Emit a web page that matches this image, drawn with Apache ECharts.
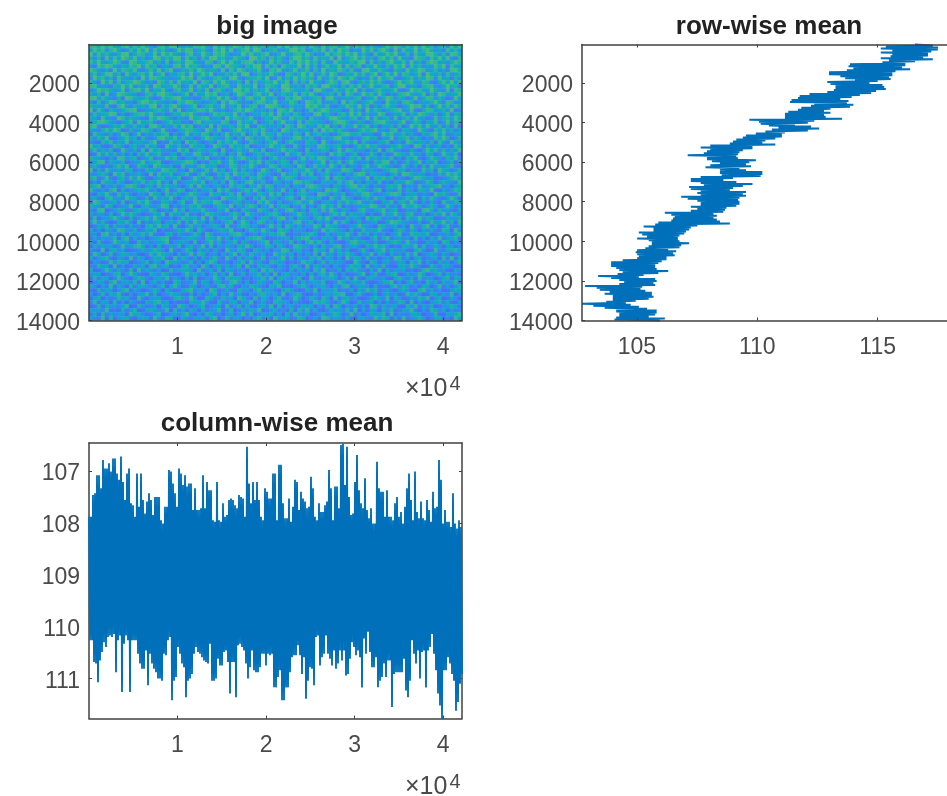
<!DOCTYPE html>
<html><head><meta charset="utf-8">
<style>html,body{margin:0;padding:0;background:#fff;overflow:hidden}#c{width:947px;height:796px;filter:blur(0.6px)}</style>
<script src="https://cdn.jsdelivr.net/npm/echarts@6/dist/echarts.min.js"></script>
</head><body><div id="c"></div>
<script>
// Image brightness, rows top to bottom, one digit per cell (0 = blue, 9 = green)
const imageRows = [
"674958326817495206738941527683094715862937460518392746185093672481957263048596173829460571938",
"385716940263859174620395871462075938146829703561248957036481729560318472695081743926851407362",
"927463158904762381957420681395276840139572468015923674850129367485916207348592160743895261874",
"516082739648150397264981735062894613752098461736205984617352809146937250684719320865174938206",
"749325861097346825170563984217605938426781503946217385946072185336489071526943718250697341586",
"208697415376928560341782956403187296530648917260753491826057349182670539416285907361428590743",
"863140927658104739268015473962541807396245810769314825706193548627108943752064183597236140895",
"471589360842673915804367192585903264718902635841076259381472960153847269058391762480953617246",
"195726084315092876431259680741367518920456739018263947560813729648503172946810357264971835062",
"630948172569741308627184539076284951360817246593580716294305861792046385720159468327610584937",
"782310659481526097345960281743905672184539027641983250746189530627481593267048915306782149560",
"149675238067839154820673491528067413985726348051796423608951274385906126743581029674395218076",
"526081397542016738964125807349681250497316825903642817593024617086139572840316795248061973458",
"893742160985347201756894320167359482061783594260175893246708931452670348159726403915872630194",
"307159846230698574213076985412560839741206873591348602975813460927514683209451786024369518723",
"654281079316452890637941258036724915380467129875026341968527103486392705168430259781604937285",
"918406325789013467528190346875931402685973241608759130482697354018260937514679238105873462901",
"273569814026785931402658793120486753916024375819462750318946205739481623970254816397526048165",
"540832197364210859763042195678135094762581036497218564072315896426705918346180572943018267395",
"168974203581946720358461207936542870193648025716934081765420379851263047895326914760548139276",
"792013658427350896142739680251907346285910763425086197342869150734926815043617029583942716080",
"431685970162487503921046875319628014795367482150973624508196847320158679241780653195207483615",
"085326149703915264780513926487041592638047196528341760925734016896572340196834725106479381254",
"627491035846072138965827340169753284061972538406125893471062589340217856043915682740318596027",
"310758264915643790218460957302618475930286415793068421756093124685907321568024197365270841963",
"946102873057328461095372186450297318564801326954711830642985367120486957312658430981724603185",
"582637019426180957342196804753640921573496280136957420813576049287354162907843116204958372649",
"019483726150749368215607439821583706294015738642093581764230958614702385061297538441760295380",
"764205198367025813496820351769124058379642710583621049375986124037581946263814075920386417592",
"258916437024593678102457986031768249510386927415760836214590738169423507489160372591648023706",
"473021685912864097536018342795460138726594103872654197038462951705316824975302841607194536821",
"906184352760317542986723095148293605817240396158023745961708423986017352146895603218470965137",
"325740968143620918457136820594017482956731864202935618480257136042798165320471986354021739684",
"681392057284951036724580139627815394026175840391687402356149087513642907685713204986350124795",
"140865273016483759260913567480362709514892371065142986730164528379150642813064597123860475329",
"579032614897205618374620481953146028375063928714260531897423065168937405216759034182467923056",
"832417906135768240591387026154709582136849405723916048265319784025486317905428163076391052487",
"206593184720341965083741596320856147290631752948035167420986153702648951236897045514209673128",
"461078352965127083649205738146320975486017392651478209365710842963015728460132586907384215960",
"097325618034859412763058129476598203761420859306124783592046317485793261054816729305162084376",
"754186023491067325980416375821047639152786043915760328140695728031246598317240965861374029513",
"318902476125743860251937064583216490307521864072389415076283951640178325692570143408961735206",
"625417039586201374908562813049753126840963215784013596237401685927536040183694278125037491862",
"180346952071468395214038657291805643917250376148926075316859402173640958724316085493750126347",
"493720165830915267046381729450621378049613872506134892570426193850271346015987432160284593708",
"026581734162307849571920483613574092268735104937085261439708652014596320873461509327916048215",
"715064298437126580312475960841036759120486395208761543016295874307128465932058617405362187093",
"340892516073584921067163248509612437895024163758910324685017236594083716240359128765801436279",
"162534807916240357891024675318749260531678940123460578923164509472631058179246350815073924681",
"508213964701836245790456318026937145806312479065238140795830621048957326014786293401635087152",
"073645129358961407126380572491805263174950238617402985316072489135620749583021764918237406513",
"421906735012473586309214860735162094386107525043981672408561937260148305692743510684019326785",
"296038147635102849753061492871340526917284360195736041528093617486205391740625183902574163024",
"614782053192640375820937415062583194072650381426917053274816405093761824035198260571346082917",
"053129486702358164097642381506971230458193620875402139660382745310952086146237508491620735148",
"328560914027461893570216834195047362580931746206315840917524063148670925382106749530184276301",
"701495263180936425018357640923618075243076195834207163508491326075843162907254613028957341064",
"465023781596210743862104957360482619037145826091573426071683940512369048215780163496025817342",
"182760394205873156492630718024395186760214583907642580193246750381920674351068427193540268175",
"036417925638190472510862349175067238941603752186043917256480139625748201367914058230846173590",
"740529163082674315806941275036218947105386420759120368414573062891365407120693852417603925148",
"218365047916302584073126893540971362084517936420685201739064581326074958136205741089362401576",
"503817692041569270348652170413680529361042785361904782015236478910583126047361295840176253904",
"167042385720931456102785394018623745096318274058213960374185092673410268539074126385914702630",
"392650814063217589460312076594108326715490362187540621039785214960283570416238709152046837215",
"028174536901842360752197403681356092481720563908146237560428197043615098273561084926370145862",
"645391207258016743390825164072459138026374901562317084926103745382905164073812659204187360523",
"170826354096731258014637920518623047159280364715082943601472586139240375680914326750238106479",
"532908146720465193287016325461790382540316827094561387025198364271056329487061923584026713095"
];
const imageTicks = [2000,4000,6000,8000,10000,12000,14000];
const rowLow = [116.55,115.34,115.13,115.61,115.13,115.61,115.54,115.13,115.47,115.20,113.85,113.79,113.99,113.72,112.98,112.98,113.45,113.65,114.06,112.91,113.04,113.25,113.25,113.18,112.91,112.17,111.76,111.69,111.42,111.36,112.37,112.23,111.83,111.69,111.29,111.15,111.15,111.15,109.67,110.07,110.14,110.48,110.88,110.61,110.34,109.94,109.53,109.40,109.13,108.99,108.86,108.05,107.65,108.05,107.91,107.78,107.11,107.91,107.91,108.12,108.45,108.05,107.85,108.45,108.45,108.45,108.52,107.65,107.24,107.24,107.65,107.78,107.17,107.24,
107.65,107.51,107.65,106.84,107.11,107.51,107.65,107.65,107.24,107.51,107.24,106.16,106.43,106.57,106.50,106.43,105.89,105.76,105.28,105.69,105.69,105.08,105.22,105.42,105.01,105.49,105.62,105.62,105.49,105.35,105.01,104.95,105.01,105.08,105.01,104.41,103.93,103.93,103.93,104.14,104.27,104.41,104.20,103.39,103.93,104.27,104.47,104.27,102.85,103.33,103.46,103.87,103.66,104.00,104.00,104.00,103.73,102.72,103.19,103.66,104.14,104.14,104.27,104.27,104.14,104.07];
const rowHigh = [117.29,117.51,117.50,117.23,117.09,117.09,116.89,117.29,116.55,116.15,116.15,116.01,116.35,115.74,115.61,115.61,115.47,115.54,115.00,114.66,115.20,115.27,115.34,114.93,114.73,114.26,113.92,113.45,113.79,113.72,113.99,113.85,113.04,112.77,113.04,112.77,112.84,113.52,112.37,112.10,111.56,112.23,112.57,112.10,111.15,111.02,111.02,110.75,110.34,110.21,110.75,109.80,109.80,109.40,109.26,109.20,109.13,109.20,109.94,109.67,109.53,109.74,109.26,109.53,110.21,110.21,110.14,108.99,108.59,109.13,109.80,109.40,108.99,108.86,
109.53,109.40,109.53,109.26,109.20,109.26,109.26,109.13,108.72,108.66,108.59,108.18,108.32,108.18,108.32,108.45,108.86,107.51,107.24,107.17,107.04,106.97,106.77,106.70,106.70,106.77,107.17,106.84,106.77,106.30,106.63,106.50,106.57,106.23,106.23,106.03,105.89,105.76,105.76,105.82,106.30,105.89,105.28,105.08,105.76,105.82,105.69,105.76,105.22,105.15,105.35,105.62,105.62,105.69,105.49,104.95,104.54,104.74,105.08,105.42,105.82,105.82,105.76,105.49,106.16,105.96];
const colHigh = [107.88,107.88,107.46,107.43,107.08,107.08,107.33,106.79,106.95,106.95,106.85,107.01,106.76,106.76,107.05,107.17,106.72,107.21,107.56,107.05,106.95,107.62,107.66,107.88,107.05,107.69,107.05,107.56,107.82,107.59,107.43,107.56,107.85,107.50,107.50,107.50,107.95,108.01,107.69,107.69,106.98,107.01,107.24,107.43,107.69,106.95,107.05,107.27,107.08,107.30,107.24,107.24,107.75,107.33,107.75,107.75,107.72,107.08,107.72,107.21,107.37,107.37,107.95,107.98,107.21,107.95,107.98,107.62,107.88,107.85,107.56,107.53,107.56,107.66,107.72,107.46,107.50,107.53,107.88,106.53,107.24,107.62,107.21,107.56,107.21,107.56,107.88,107.95,107.33,107.40,107.53,107.53,107.05,107.05,107.95,106.88,
106.88,107.62,107.91,107.91,107.53,107.98,107.69,107.17,107.21,107.75,107.40,107.53,107.59,107.72,107.69,107.11,107.33,107.88,107.95,107.62,107.79,107.79,107.66,107.59,106.98,107.33,107.95,107.30,107.30,107.72,106.50,106.47,107.27,106.53,107.50,107.85,107.82,107.21,106.69,107.37,107.62,107.72,107.14,107.75,107.91,107.72,108.01,108.01,106.82,107.33,107.40,107.40,107.88,107.37,107.88,107.88,107.95,107.62,107.50,107.88,107.79,108.01,107.69,107.33,107.05,107.56,107.95,107.01,107.79,107.91,107.59,107.91,107.95,107.56,107.75,107.98,107.40,107.72,107.69,106.79,107.17,108.01,107.75,107.98,107.98,108.08,107.43,108.01,108.11,107.95,108.08];
const colLow = [110.26,110.26,110.68,110.71,111.07,110.65,110.49,110.30,110.39,110.20,110.17,110.20,110.14,110.88,110.26,110.17,111.26,110.33,110.17,110.26,111.26,110.26,110.26,110.26,110.52,110.71,110.81,110.81,110.46,111.13,110.52,110.71,110.81,110.88,111.00,111.00,111.04,110.52,110.55,110.26,110.20,111.42,111.04,110.97,110.39,110.52,110.71,110.78,111.36,111.04,111.00,110.91,110.52,110.39,110.49,110.52,110.59,110.65,110.68,110.71,110.33,111.04,111.04,111.00,110.62,110.75,110.75,110.49,110.46,110.68,111.29,110.68,110.68,111.36,110.36,110.33,110.39,110.46,110.71,111.00,110.78,110.46,110.84,110.88,110.88,110.78,110.52,110.52,110.75,110.52,110.55,110.52,111.17,111.17,110.97,110.84,
111.42,111.42,111.17,111.17,110.88,110.59,110.55,110.55,110.36,110.55,110.91,110.59,111.39,111.04,110.78,110.81,111.13,110.20,110.17,110.75,110.59,110.52,110.17,110.52,110.62,110.75,110.46,110.81,110.71,110.46,110.65,110.46,110.94,110.91,110.62,110.30,110.39,110.55,110.46,110.59,111.17,110.23,110.52,110.10,110.49,110.78,110.78,110.59,111.17,111.04,110.97,110.71,110.97,110.65,110.65,111.55,110.91,110.88,110.88,110.88,110.88,110.62,111.23,111.36,111.04,110.26,110.52,110.71,110.46,111.00,110.49,110.46,111.17,110.46,110.39,110.14,110.52,110.84,111.29,111.52,111.78,110.84,110.84,110.59,110.71,110.91,111.04,111.62,111.45,111.10,110.91];
const rowXTicks = [105,110,115];
const colYTicks = [107,108,109,110,111];
const xTicks = [10000,20000,30000,40000];

const ink = '#404040', lineBlue = '#0070BA';
const labelFont = {color:'#4a4a4a',fontSize:23,fontFamily:'"Liberation Sans",Arial,sans-serif'};
function frameAxis(pos,grid,min,max,ticks,extra){
  const shown = pos==='left'||pos==='bottom';
  const yLabel = pos==='left'?{verticalAlign:'top',lineHeight:6}:{};
  return Object.assign({type:'value',gridIndex:grid,position:pos,min,max,splitLine:{show:false},
    axisLine:{show:true,onZero:false,lineStyle:{color:ink,width:1.5}},
    axisTick:{show:true,inside:true,length:3,customValues:ticks,lineStyle:{color:ink}},
    axisLabel:Object.assign({show:shown,customValues:ticks,margin:pos==='left'?9:16,hideOverlap:false,
      formatter:v=>String(v)},labelFont,yLabel),
    z:3},extra||{});
}
const xFmt = {axisLabel:Object.assign({show:true,customValues:xTicks,margin:16,formatter:v=>String(v/10000)},labelFont)};
const rowStart=64,rowEnd=14000,colEnd=42140;
const rowData=[]; rowLow.forEach((v,i)=>{const n=rowLow.length*2-1;const s=(rowEnd-rowStart)/n;rowData.push([v,rowStart+2*i*s],[rowHigh[i],rowStart+(2*i+1)*s]);});
const colData=[]; colLow.forEach((v,i)=>{const n=colLow.length*2-1;colData.push([2*i*colEnd/n,colHigh[i]],[(2*i+1)*colEnd/n,v]);});
const cols=Math.min(...imageRows.map(r=>r.length));
// The image gets greener towards the top exactly as its row-wise mean says
const cells=[]; imageRows.forEach((r,y)=>{
  const k=Math.min(rowLow.length-1,Math.round(y*rowLow.length/imageRows.length));
  const level=((rowLow[k]+rowHigh[k])/2-109.5)*0.22;
  for(let x=0;x<cols;x++)cells.push([x,y,+r[x]+level]);
});
const catX=[...Array(cols).keys()], catY=imageRows.map((_,i)=>i);

const lineCommon={type:'line',showSymbol:false,animation:false,clip:false,z:2,
  lineStyle:{color:lineBlue,width:2,join:'bevel'},itemStyle:{color:lineBlue}};
const titleStyle={color:'#222',fontSize:26,fontWeight:'bold',fontFamily:'"Liberation Sans",Arial,sans-serif'};
function exponent(left,top){return {type:'text',left,top,z:10,style:{
  text:'×10{s|4}',fill:'#4a4a4a',font:'25px "Liberation Sans",Arial,sans-serif',
  rich:{s:{fontSize:20,verticalAlign:'top',fill:'#4a4a4a',padding:[0,0,10,2]}}}};}

const chart=echarts.init(document.getElementById('c'),null,{renderer:'canvas'});
chart.setOption({
  animation:false,backgroundColor:'#fff',
  title:[
    {text:'big image',left:272,top:9,textAlign:'center',textStyle:titleStyle},
    {text:'row-wise mean',left:764,top:9,textAlign:'center',textStyle:titleStyle},
    {text:'column-wise mean',left:272,top:406,textAlign:'center',textStyle:titleStyle}
  ],
  graphic:[exponent(405,374),exponent(405,772)],
  grid:[
    {left:89,top:44.5,width:373,height:276},
    {left:89,top:44.5,width:373,height:276},
    {left:582,top:44.5,width:373,height:276},
    {left:89,top:443,width:373,height:275.5}
  ],
  visualMap:{show:false,min:-1,max:10,seriesIndex:0,dimension:2,
    inRange:{color:['#3f70f5','#3c7cf2','#2a90e8','#10a6cc','#14b0b0','#30b894','#48bc80']}},
  xAxis:[
    {type:'category',gridIndex:0,data:catX,show:false},
    frameAxis('bottom',1,0,colEnd,xTicks,xFmt),
    frameAxis('top',1,0,colEnd,xTicks),
    frameAxis('bottom',2,102.72,117.88,rowXTicks),
    frameAxis('top',2,102.72,117.88,rowXTicks),
    frameAxis('bottom',3,0,colEnd,xTicks,xFmt),
    frameAxis('top',3,0,colEnd,xTicks)
  ],
  yAxis:[
    {type:'category',gridIndex:0,data:catY,show:false,inverse:true},
    frameAxis('left',1,rowStart,rowEnd,imageTicks,{inverse:true}),
    frameAxis('right',1,rowStart,rowEnd,imageTicks,{inverse:true}),
    frameAxis('left',2,rowStart,rowEnd,imageTicks,{inverse:true}),
    frameAxis('left',3,106.46,111.77,colYTicks,{inverse:true}),
    frameAxis('right',3,106.46,111.77,colYTicks,{inverse:true})
  ],
  series:[
    {type:'heatmap',xAxisIndex:0,yAxisIndex:0,data:cells,progressive:0,animation:false,z:1},
    Object.assign({},lineCommon,{xAxisIndex:3,yAxisIndex:3,data:rowData}),
    Object.assign({},lineCommon,{xAxisIndex:5,yAxisIndex:4,data:colData,z:4,lineStyle:{color:lineBlue,width:1.85,join:'bevel'}})
  ]
});
</script></body></html>
